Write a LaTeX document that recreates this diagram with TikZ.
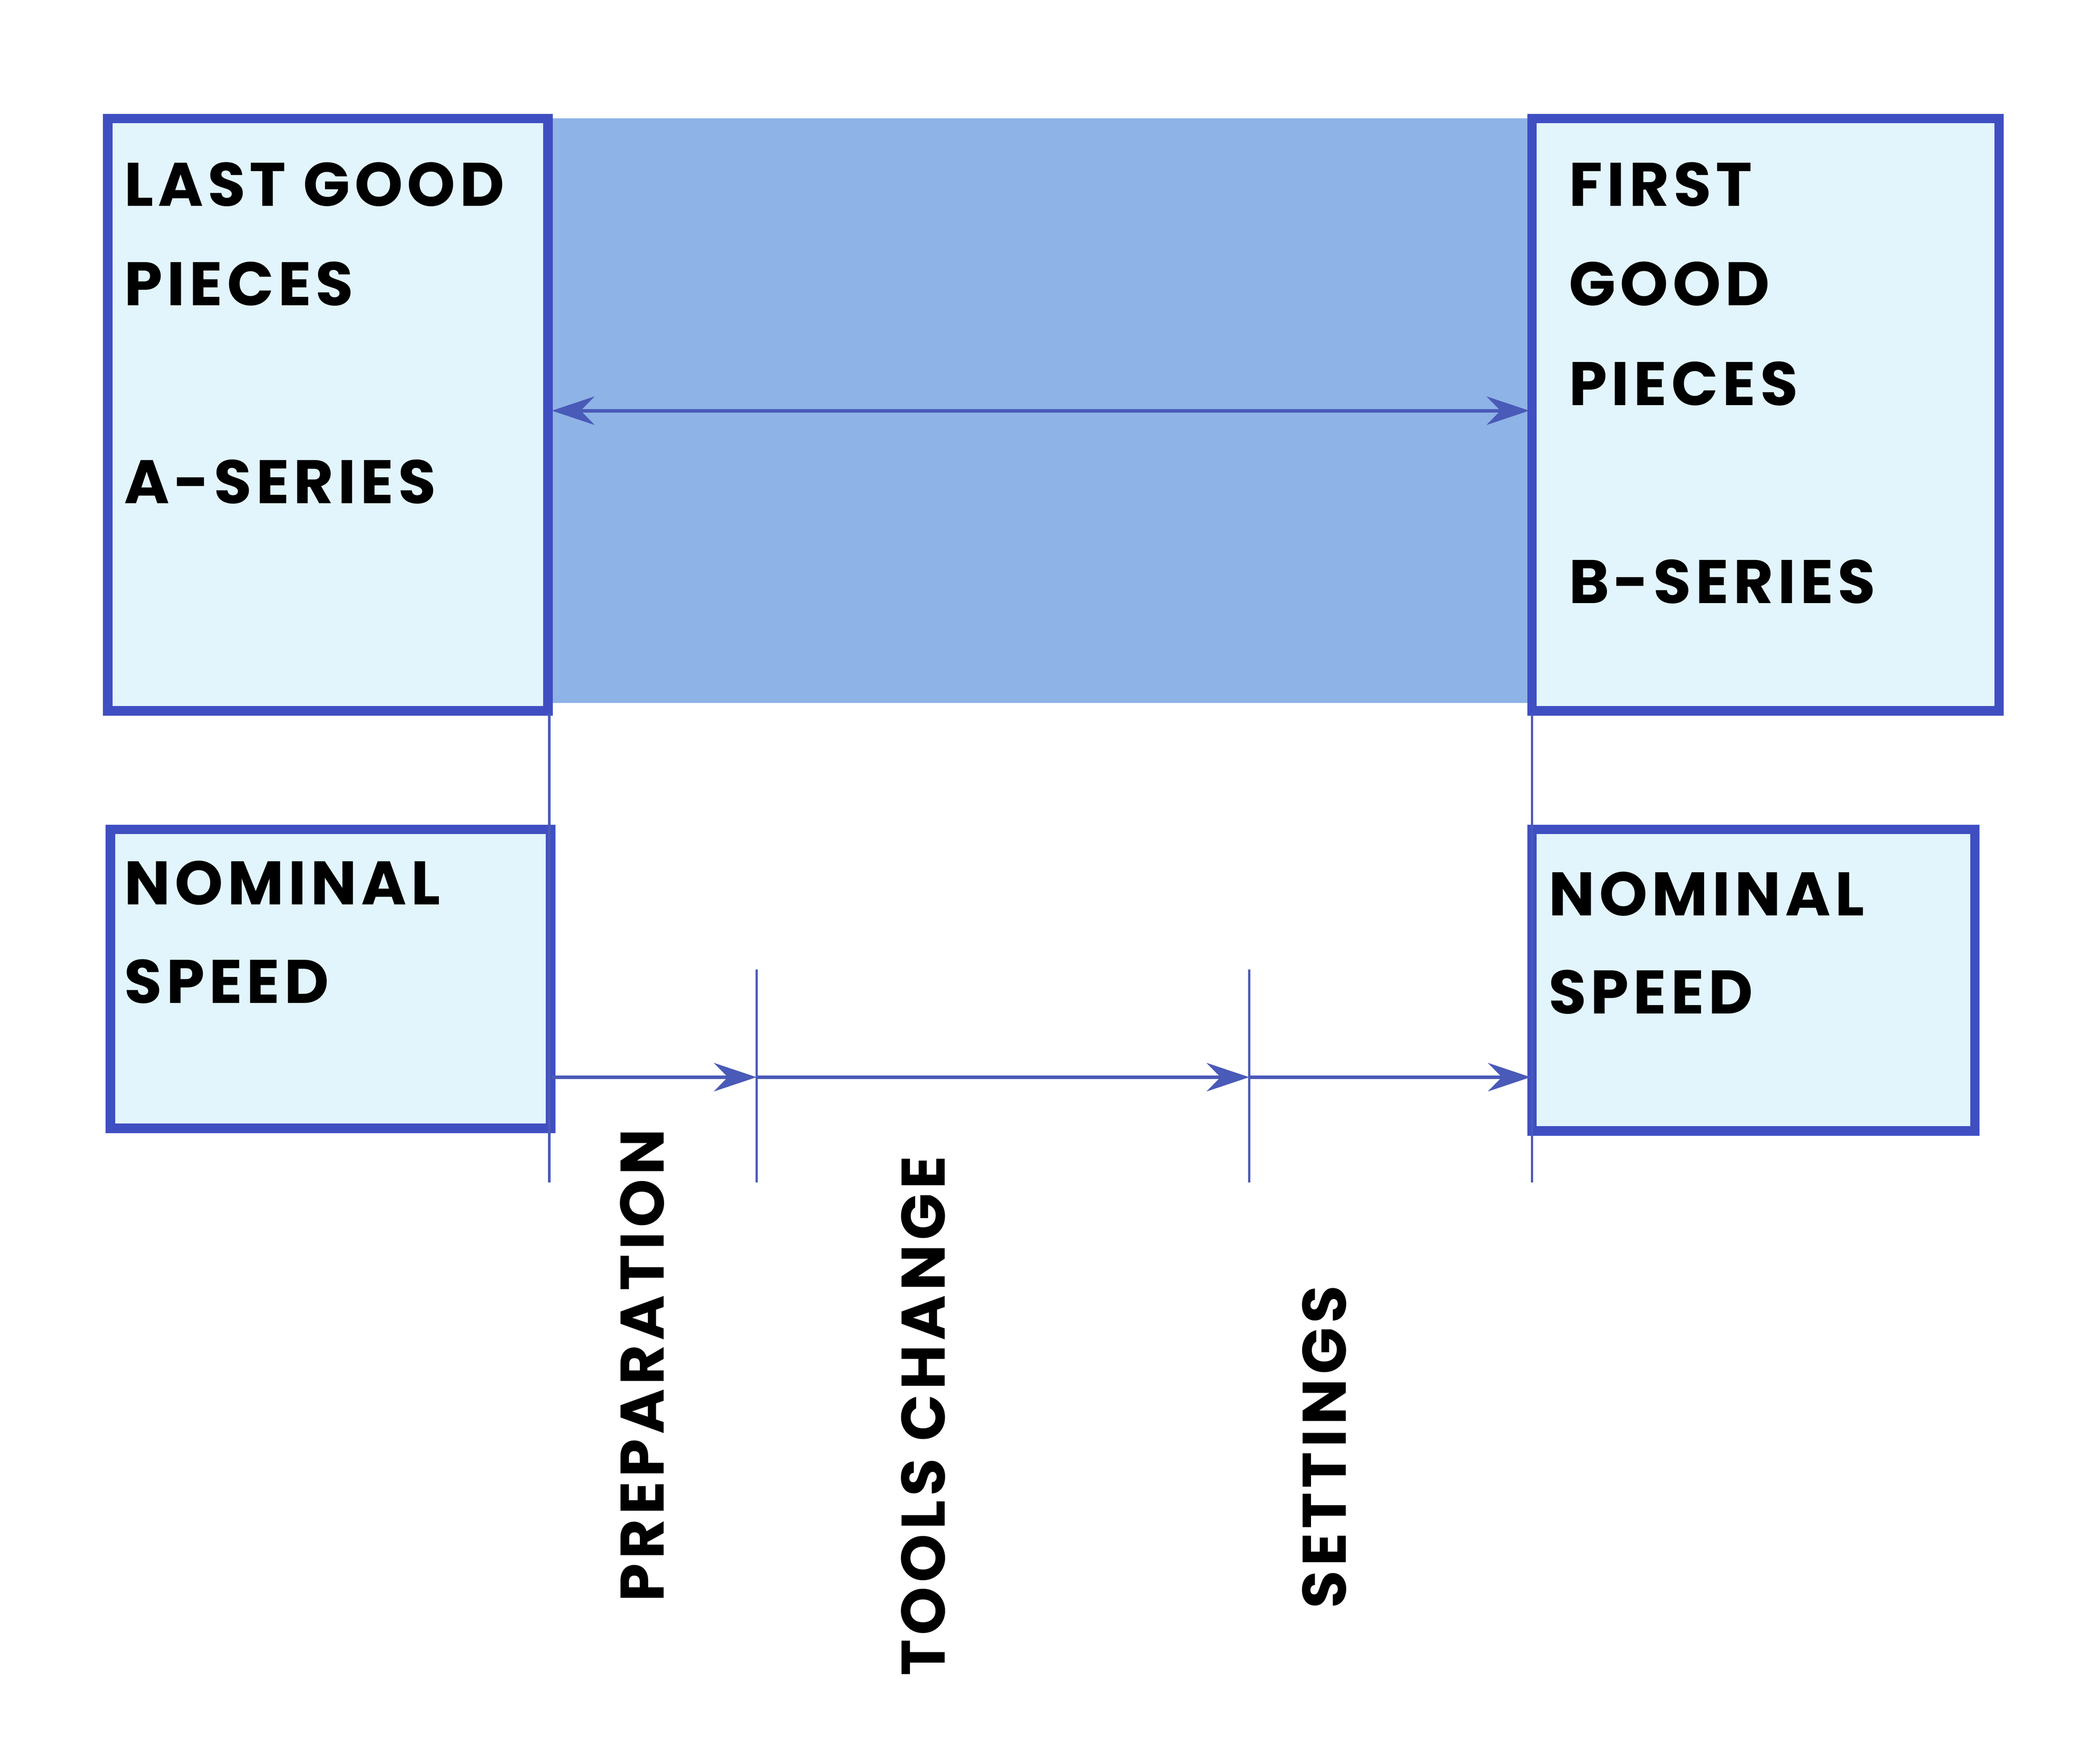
\documentclass[tikz,border=0pt]{standalone}
\usepackage{fontspec}
\setmainfont{Poppins}[LetterSpace=7]
\usetikzlibrary{arrows.meta}
\definecolor{bord}{HTML}{3F4FC2}
\definecolor{boxf}{HTML}{E2F5FC}
\definecolor{band}{HTML}{8EB3E6}
\definecolor{ln}{HTML}{4A5AB8}
\tikzset{
 box/.style={draw=bord,line width=4pt,fill=boxf},
 lbl/.style={anchor=base west,inner sep=0pt,font=\fontsize{26}{30}\selectfont\bfseries},
 vl/.style={anchor=base west,inner sep=0pt,rotate=90,font=\fontsize{26}{30}\selectfont\bfseries},
 con/.style={draw=ln,line width=1.5pt},
 arr/.style={con,-{Stealth[length=18pt,width=12pt]}},
}
\begin{document}
\begin{tikzpicture}[x=0.02cm,y=-0.02cm]
\useasboundingbox (0,0) rectangle (1560,1290.5);
\fill[band] (408,88) rectangle (1138,522);
\draw[box] (80,88) rectangle (407,528);
\draw[box] (1138,88) rectangle (1485,528);
\draw[box] (82,616) rectangle (409,838);
\draw[box] (1138,616) rectangle (1467,840);
\coordinate (dl) at (410,305); \coordinate (dr) at (1136,305);
\draw[con,{Stealth[length=18pt,width=12pt]}-{Stealth[length=18pt,width=12pt]}] (dl) -- (dr);
\coordinate (v1a) at (408,530); \coordinate (v1b) at (408,878);
\coordinate (v2a) at (1138,530); \coordinate (v2b) at (1138,878);
\coordinate (t1a) at (562,720); \coordinate (t1b) at (562,878);
\coordinate (t2a) at (928,720); \coordinate (t2b) at (928,878);
\draw[con,line width=1pt] (v1a)--(v1b) (v2a)--(v2b) (t1a)--(t1b) (t2a)--(t2b);
\coordinate (a0) at (410,800); \coordinate (a1) at (562,800);
\coordinate (a2) at (928,800); \coordinate (a3) at (1137,800);
\draw[arr] (a0)--(a1); \draw[arr] (a1)--(a2); \draw[arr] (a2)--(a3);
\node[lbl] (l1) at (92,153) {LAST GOOD};
\node[lbl] (l2) at (92,227) {PIECES};
\node[lbl] (l3) at (92,374) {A-SERIES};
\node[lbl] (r1) at (1165,153) {FIRST};
\node[lbl] (r2) at (1165,227) {GOOD};
\node[lbl] (r3) at (1165,301) {PIECES};
\node[lbl] (r4) at (1165,448) {B-SERIES};
\node[lbl] (n1) at (92,672) {NOMINAL};
\node[lbl] (n2) at (92,745) {SPEED};
\node[lbl] (n3) at (1150,680) {NOMINAL};
\node[lbl] (n4) at (1150,753) {SPEED};
\node[vl] (p) at (493,1190) {PREPARATION};
\node[vl] (tc) at (702,1245) {TOOLS CHANGE};
\node[vl] (s) at (1000,1195) {SETTINGS};
\end{tikzpicture}
\end{document}
